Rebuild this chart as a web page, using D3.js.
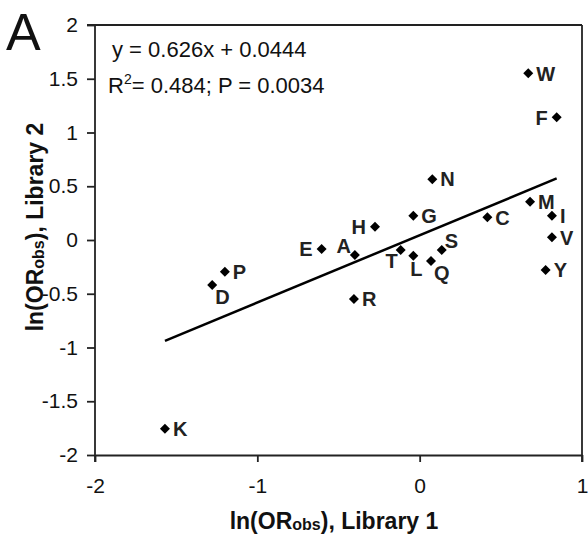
<!DOCTYPE html>
<html>
<head>
<meta charset="utf-8">
<script src="https://cdn.jsdelivr.net/npm/d3@7"></script>
<style>
  body { margin: 0; background: #fff; }
  text { font-family: "Liberation Sans", Arial, sans-serif; }
</style>
</head>
<body>
<div id="chart"></div>
<script>
// amino acid residues and their ln(OR) values
var residues = ["W", "F", "N", "M", "G", "C", "I", "V", "Y", "S", "T", "L", "Q", "H", "E", "A", "P", "D", "R", "K"];
var lib1 = [0.669, 0.844, 0.078, 0.680, -0.039, 0.417, 0.815, 0.815, 0.776, 0.136, -0.117, -0.039, 0.070, -0.275, -0.604, -0.399, -1.200, -1.278, -0.405, -1.569];
var lib2 = [1.550, 1.141, 0.565, 0.356, 0.226, 0.211, 0.226, 0.025, -0.279, -0.093, -0.093, -0.146, -0.195, 0.124, -0.084, -0.140, -0.295, -0.419, -0.549, -1.755];

var xTicks = [-2, -1, 0, 1];
var yTicks = [-2, -1.5, -1, -0.5, 0, 0.5, 1, 1.5, 2];
var slope = 0.626, intercept = 0.0444;

// where each letter sits relative to its diamond
var labelSide = {W: "r", F: "l", N: "r", M: "r", G: "r", C: "r", I: "r", V: "r", Y: "r", S: "ar",
    T: "bl", L: "b", Q: "br", H: "l", E: "l", A: "al", P: "r", D: "br", R: "r", K: "r"};

var margin = {top: 25, right: 6, bottom: 80, left: 95};
var width = 588 - margin.left - margin.right;
var height = 535 - margin.top - margin.bottom;

var svg = d3.select("#chart").append("svg")
    .attr("width", 588)
    .attr("height", 535);

var g = svg.append("g")
    .attr("transform", "translate(" + margin.left + "," + margin.top + ")");

var x = d3.scaleLinear().domain([-2, 1]).range([0, width]);
var y = d3.scaleLinear().domain([-2, 2]).range([height, 0]);

var axisColor = "#222";

// frame (top and right)
g.append("line")
    .attr("x1", -8).attr("x2", width)
    .attr("y1", 0).attr("y2", 0)
    .attr("stroke", axisColor).attr("stroke-width", 1.8);
g.append("line")
    .attr("x1", width).attr("x2", width)
    .attr("y1", 0).attr("y2", height + 7)
    .attr("stroke", axisColor).attr("stroke-width", 1.8);

var yAxis = d3.axisLeft(y)
    .tickValues(yTicks)
    .tickSizeInner(8)
    .tickSizeOuter(0)
    .tickPadding(9)
    .tickFormat(function(d) { return String(d); });

var xAxis = d3.axisBottom(x)
    .tickValues(xTicks)
    .tickSizeInner(7)
    .tickSizeOuter(0)
    .tickPadding(16)
    .tickFormat(function(d) { return String(d); });

var gy = g.append("g").call(yAxis);
var gx = g.append("g").attr("transform", "translate(0," + height + ")").call(xAxis);

[gx, gy].forEach(function(ax) {
    ax.select(".domain").attr("stroke", axisColor).attr("stroke-width", 1.8);
    ax.selectAll(".tick line").attr("stroke", axisColor).attr("stroke-width", 1.8);
    ax.selectAll(".tick text")
        .attr("fill", "#111")
        .style("font-size", "21px")
        .style("font-family", "'Liberation Sans', Arial, sans-serif");
});
// left axis runs down to the bottom tick
gy.select(".domain").attr("d", "M0,0V" + (height + 7));

// regression line across the data range
var xr = d3.extent(lib1);
g.append("line")
    .attr("x1", x(xr[0])).attr("y1", y(slope * xr[0] + intercept))
    .attr("x2", x(xr[1])).attr("y2", y(slope * xr[1] + intercept))
    .attr("stroke", "#000")
    .attr("stroke-width", 2.5);

var diamond = d3.symbol().type(d3.symbolSquare).size(50);

var pts = residues.map(function(r, i) { return {name: r, a: lib1[i], b: lib2[i]}; });

g.selectAll(".pt")
    .data(pts)
    .enter()
    .append("path")
    .attr("class", "pt")
    .attr("d", diamond)
    .attr("transform", function(d) {
        return "translate(" + x(d.a) + "," + y(d.b) + ") rotate(45)";
    })
    .attr("fill", "#000");

var offs = {
    r: [8, 0, "start"], l: [-9, 0, "end"], ar: [3, -9, "start"], al: [-4, -9, "end"],
    bl: [-3, 11, "end"], b: [3, 13, "middle"], br: [3, 12, "start"]
};

g.selectAll(".lbl")
    .data(pts)
    .enter()
    .append("text")
    .attr("class", "lbl")
    .attr("x", function(d) { return x(d.a) + offs[labelSide[d.name]][0]; })
    .attr("y", function(d) { return y(d.b) + offs[labelSide[d.name]][1]; })
    .attr("dy", "0.36em")
    .attr("text-anchor", function(d) { return offs[labelSide[d.name]][2]; })
    .style("font-size", "20px")
    .style("font-weight", "bold")
    .attr("fill", "#222")
    .text(function(d) { return d.name; });

// equation text
svg.append("text")
    .attr("x", 112).attr("y", 57)
    .style("font-size", "22px")
    .attr("fill", "#111")
    .text("y = 0.626x + 0.0444");

var stat = svg.append("text")
    .attr("x", 108).attr("y", 93)
    .style("font-size", "22px")
    .attr("fill", "#111");
stat.append("tspan").text("R");
stat.append("tspan").attr("dy", -9).style("font-size", "14px").text("2");
stat.append("tspan").attr("dy", 9).text("= 0.484; P = 0.0034");

// panel letter
svg.append("text")
    .attr("x", 6).attr("y", 50)
    .style("font-size", "52px")
    .attr("fill", "#111")
    .text("A");

// axis titles
var xt = svg.append("text")
    .attr("x", 334)
    .attr("y", 529)
    .attr("text-anchor", "middle")
    .style("font-size", "23px")
    .style("font-weight", "bold")
    .attr("fill", "#111");
xt.append("tspan").text("ln(OR");
xt.append("tspan").style("font-size", "16px").attr("dy", 1).text("obs");
xt.append("tspan").attr("dy", -1).text("), Library 1");

var yt = svg.append("text")
    .attr("transform", "translate(43,227) rotate(-90)")
    .attr("text-anchor", "middle")
    .style("font-size", "23px")
    .style("font-weight", "bold")
    .attr("fill", "#111");
yt.append("tspan").text("ln(OR");
yt.append("tspan").style("font-size", "16px").attr("dy", 1).text("obs");
yt.append("tspan").attr("dy", -1).text("), Library 2");
</script>
</body>
</html>
